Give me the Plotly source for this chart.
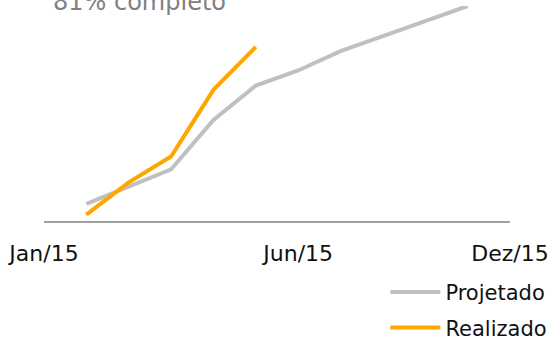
import plotly.graph_objects as go

# Month index 0 = Jan/15 ... 11 = Dez/15
months_proj = [1, 2, 3, 4, 5, 6, 7, 8, 9, 10]
projetado = [8, 16, 24, 47, 63, 70, 79, 86, 93, 100]

months_real = [1, 2, 3, 4, 5]
realizado = [3, 18, 30, 61, 81]

tick_pos = [0, 6, 11]
tick_text = ["Jan/15", "Jun/15", "Dez/15"]

title_text = f"{realizado[-1]}% completo"

FONT = "DejaVu Sans"

fig = go.Figure()
fig.add_trace(go.Scatter(
    x=months_proj, y=projetado, mode="lines", name="Projetado",
    legendgroup="p",
    line=dict(color="#c0c0c0", width=4),
))
fig.add_trace(go.Scatter(
    x=months_real, y=realizado, mode="lines", name="Realizado",
    legendgroup="r",
    line=dict(color="#ffa500", width=4),
))

fig.update_layout(
    width=559, height=341,
    margin=dict(l=44, r=49, t=6, b=120, autoexpand=False),
    paper_bgcolor="white", plot_bgcolor="white",
    font=dict(family=FONT, size=21, color="#111111"),
    showlegend=True,
    legend=dict(
        x=1.091, xanchor="right", y=-0.237, yanchor="top",
        font=dict(family=FONT, size=21, color="#111111"),
        tracegroupgap=5, itemwidth=50, bgcolor="rgba(0,0,0,0)",
    ),
    xaxis=dict(
        range=[0, 11], showgrid=False, zeroline=False,
        showline=True, linecolor="#a0a0a0", linewidth=2,
        tickmode="array", tickvals=tick_pos, ticktext=tick_text,
        ticks="", tickfont=dict(family=FONT, size=22, color="#111111"),
        ticklabelstandoff=12,
    ),
    yaxis=dict(
        range=[0, 100], visible=False, showgrid=False, zeroline=False,
    ),
    annotations=[dict(
        text=title_text, xref="paper", yref="paper",
        x=0, y=1, xanchor="left", yanchor="middle",
        xshift=7, yshift=4, showarrow=False,
        font=dict(family=FONT, size=24, color="#808080"),
    )],
)

fig.write_html("out.html")
